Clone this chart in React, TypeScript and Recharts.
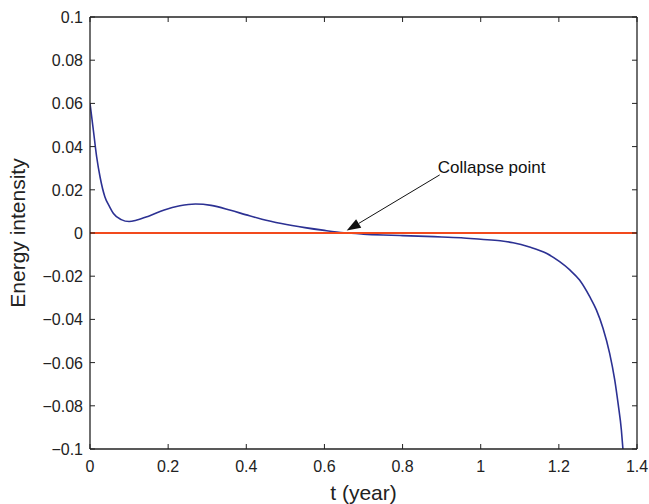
import React from 'react';
import {
  LineChart,
  Line,
  XAxis,
  YAxis,
  ReferenceLine,
} from 'recharts';

// time (years) and energy intensity
const timeYears = [
  0, 0.009, 0.017, 0.026, 0.038, 0.05, 0.06, 0.08, 0.1, 0.12, 0.15, 0.19,
  0.23, 0.27, 0.31, 0.36, 0.4, 0.44, 0.49, 0.55, 0.6, 0.65, 0.7, 0.75, 0.8,
  0.88, 0.95, 1.0, 1.05, 1.083, 1.125, 1.168, 1.202, 1.228, 1.253, 1.279,
  1.296, 1.313, 1.33, 1.343, 1.352, 1.36, 1.364,
];
const energyIntensity = [
  0.06, 0.047, 0.0353, 0.0257, 0.0168, 0.0122, 0.009, 0.0062, 0.0053, 0.006,
  0.0078, 0.0107, 0.0126, 0.0134, 0.0128, 0.0105, 0.0084, 0.0064, 0.0044,
  0.0025, 0.0012, 0.0001, -0.0005, -0.0009, -0.0012, -0.0017, -0.0022,
  -0.0029, -0.0036, -0.0045, -0.0065, -0.0094, -0.0133, -0.0171, -0.0218,
  -0.0295, -0.0356, -0.0441, -0.0557, -0.068, -0.0795, -0.0912, -0.1,
];

const xTicks = [0, 0.2, 0.4, 0.6, 0.8, 1, 1.2, 1.4];
const yTicks = [-0.1, -0.08, -0.06, -0.04, -0.02, 0, 0.02, 0.04, 0.06, 0.08, 0.1];

// arrow: tail near the text, head at the collapse point
const arrowTail = { x: 0.895, y: 0.0269 };
const arrowHead = { x: 0.657, y: 0.0011 };
const annotationText = 'Collapse point';

const data = timeYears.map((t, i) => ({ t, e: energyIntensity[i] }));

const FONT = '"Liberation Sans", Arial, Helvetica, sans-serif';
const AXIS = '#222';
const fmt = (v: number) => String(v).replace('-', '\u2212');

const BottomTick = ({ x, y, payload }: any) => (
  <g>
    <line x1={x} x2={x} y1={y} y2={y - 5} stroke={AXIS} />
    <text x={x} y={y + 22.5} textAnchor="middle" fontSize={16} fill={AXIS} fontFamily={FONT}>
      {fmt(payload.value)}
    </text>
  </g>
);

const LeftTick = ({ x, y, payload }: any) => (
  <g>
    <line x1={x} x2={x + 5} y1={y} y2={y} stroke={AXIS} />
    <text x={x - 7} y={y + 6} textAnchor="end" fontSize={16} fill={AXIS} fontFamily={FONT}>
      {fmt(payload.value)}
    </text>
  </g>
);

const TopTick = ({ x, y }: any) => (
  <line x1={x} x2={x} y1={y} y2={y + 5} stroke={AXIS} />
);

const RightTick = ({ x, y }: any) => (
  <line x1={x} x2={x - 5} y1={y} y2={y} stroke={AXIS} />
);

const Arrow = ({ x1, y1, x2, y2 }: any) => {
  const ang = Math.atan2(y2 - y1, x2 - x1);
  const len = 14;
  const half = 5;
  const bx = x2 - len * Math.cos(ang);
  const by = y2 - len * Math.sin(ang);
  const px = -Math.sin(ang) * half;
  const py = Math.cos(ang) * half;
  return (
    <g>
      <line x1={x1} y1={y1} x2={bx} y2={by} stroke="#111" strokeWidth={1} />
      <polygon
        points={`${x2},${y2} ${bx + px},${by + py} ${bx - px},${by - py}`}
        fill="#111"
      />
      <text x={x1 - 2} y={y1 - 2} fontSize={17} fill="#111" fontFamily={FONT}>
        {annotationText}
      </text>
    </g>
  );
};

export default function App() {
  return (
    <div style={{ position: 'absolute', left: 0, top: 0, background: '#fff' }}>
      <LineChart
        width={649}
        height={504}
        data={data}
        margin={{ top: 16, right: 11, left: 0, bottom: 0 }}
      >
        <XAxis
          dataKey="t"
          type="number"
          domain={[0, 1.4]}
          ticks={xTicks}
          interval={0}
          height={55}
          tickSize={0}
          tickMargin={0}
          tickLine={false}
          axisLine={{ stroke: AXIS, strokeWidth: 1.3 }}
          tick={<BottomTick />}
          allowDataOverflow
          label={{
            content: ({ viewBox }: any) => (
              <text
                x={viewBox.x + viewBox.width / 2}
                y={viewBox.y + 51}
                textAnchor="middle"
                fontSize={21}
                fill={AXIS}
                fontFamily={FONT}
              >
                t (year)
              </text>
            ),
          }}
        />
        <XAxis
          xAxisId="top"
          dataKey="t"
          orientation="top"
          type="number"
          domain={[0, 1.4]}
          ticks={xTicks}
          interval={0}
          height={1}
          tickSize={0}
          tickMargin={0}
          tickLine={false}
          axisLine={{ stroke: AXIS, strokeWidth: 1.3 }}
          tick={<TopTick />}
          allowDataOverflow
        />
        <YAxis
          type="number"
          domain={[-0.1, 0.1]}
          ticks={yTicks}
          interval={0}
          width={90}
          tickSize={0}
          tickMargin={0}
          tickLine={false}
          axisLine={{ stroke: AXIS, strokeWidth: 1.3 }}
          tick={<LeftTick />}
          allowDataOverflow
          label={{
            content: ({ viewBox }: any) => {
              const cx = viewBox.x + 25;
              const cy = viewBox.y + viewBox.height / 2;
              return (
                <text
                  x={cx}
                  y={cy}
                  textAnchor="middle"
                  fontSize={21}
                  fill={AXIS}
                  fontFamily={FONT}
                  transform={`rotate(-90 ${cx} ${cy})`}
                >
                  Energy intensity
                </text>
              );
            },
          }}
        />
        <YAxis
          yAxisId="right"
          dataKey="e"
          orientation="right"
          type="number"
          domain={[-0.1, 0.1]}
          ticks={yTicks}
          interval={0}
          width={1}
          tickSize={0}
          tickMargin={0}
          tickLine={false}
          axisLine={{ stroke: AXIS, strokeWidth: 1.3 }}
          tick={<RightTick />}
          allowDataOverflow
        />
        <Line
          type="monotone"
          dataKey="e"
          stroke="#2c3193"
          strokeWidth={1.6}
          dot={false}
          isAnimationActive={false}
        />
        <ReferenceLine y={0} stroke="#f24a1d" strokeWidth={2} />
        <ReferenceLine
          segment={[arrowTail, arrowHead]}
          shape={<Arrow />}
          ifOverflow="visible"
        />
      </LineChart>
    </div>
  );
}
